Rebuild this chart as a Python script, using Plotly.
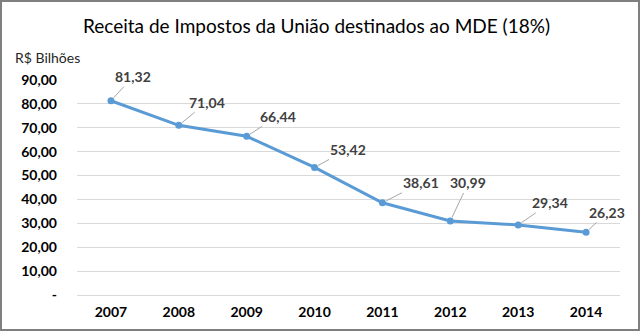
import plotly.graph_objects as go

years = ["2007", "2008", "2009", "2010", "2011", "2012", "2013", "2014"]
values = [81.32, 71.04, 66.44, 53.42, 38.61, 30.99, 29.34, 26.23]
value_labels = ["81,32", "71,04", "66,44", "53,42", "38,61", "30,99", "29,34", "26,23"]
tick_vals = [0, 10, 20, 30, 40, 50, 60, 70, 80, 90]
tick_text = ["-", "10,00", "20,00", "30,00", "40,00", "50,00", "60,00", "70,00", "80,00", "90,00"]
label_dx = [22, 28, 31, 33, 39, 18, 32, 21]
label_dy = [-24, -23, -20, -18, -20, -38, -22, -20]

W, H = 640, 331
ML, MR, MT, MB = 77, 20, 80, 36
PW, PH = W - ML - MR, H - MT - MB

FONT = "Lato"
fig = go.Figure()
fig.add_trace(go.Scatter(
    x=years, y=values, mode="lines+markers",
    line=dict(color="#5b9bd5", width=3),
    marker=dict(color="#5b9bd5", size=7),
    hoverinfo="skip", showlegend=False,
))

for i, (y, t, dx, dy) in enumerate(zip(values, value_labels, label_dx, label_dy)):
    fig.add_annotation(
        x=i, y=y, text="<b>" + t + "</b>", showarrow=True, arrowhead=0,
        arrowcolor="#a6a6a6", arrowwidth=1, ax=dx, ay=dy, standoff=4,
        font=dict(family=FONT, size=14, color="#404040"),
    )

fig.add_annotation(
    text="Receita de Impostos da União destinados ao MDE (18%)",
    xref="paper", yref="paper", x=(316 - ML) / PW, y=1 + (80 - 25) / PH,
    showarrow=False, xanchor="center", yanchor="middle",
    font=dict(family=FONT, size=19, color="#000000"),
)
fig.add_annotation(
    text="R$ Bilhões",
    xref="paper", yref="paper", x=(13 - ML) / PW, y=1 + (80 - 57) / PH,
    showarrow=False, xanchor="left", yanchor="middle",
    font=dict(family=FONT, size=14, color="#262626"),
)

# outer border
fig.add_shape(
    type="rect", xref="paper", yref="paper",
    x0=(1 - ML) / PW, x1=(W - 1 - ML) / PW,
    y0=-(MB - 1) / PH, y1=1 + (MT - 1) / PH,
    line=dict(color="#7f7f7f", width=2),
)

fig.update_layout(
    width=W, height=H, margin=dict(l=ML, r=MR, t=MT, b=MB),
    paper_bgcolor="white", plot_bgcolor="white",
    xaxis=dict(
        type="category", range=[-0.5, 7.5], showgrid=False,
        showline=True, linecolor="#d9d9d9", linewidth=1,
        tickfont=dict(family=FONT, size=14, color="#000000", weight="bold"),
        ticks="", ticklabelstandoff=4,
    ),
    yaxis=dict(
        range=[0, 90], tickvals=tick_vals, ticktext=tick_text,
        showgrid=True, gridcolor="#d9d9d9", gridwidth=1, zeroline=False,
        tickfont=dict(family=FONT, size=14, color="#000000", weight="bold"),
        ticks="", ticklabelstandoff=19,
    ),
)

fig.write_html("out.html")
